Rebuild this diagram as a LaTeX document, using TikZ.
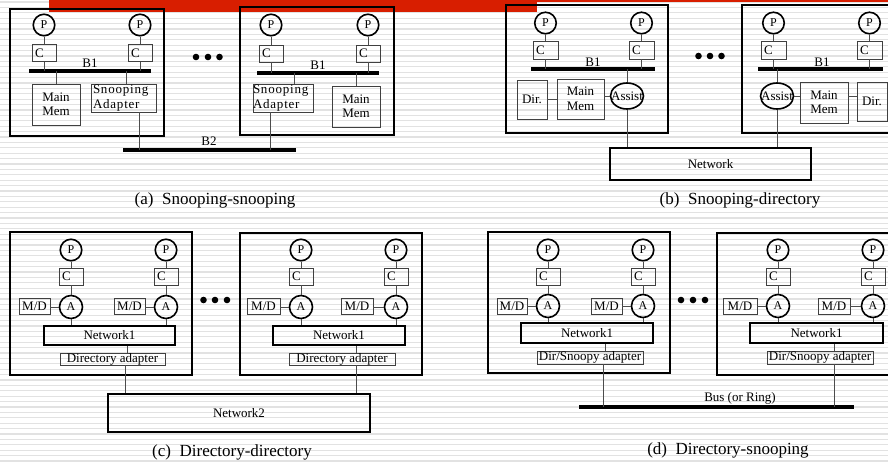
\documentclass[tikz,border=0pt]{standalone}
\usepackage{fontspec}
\setmainfont{Liberation Serif}
\newfontfamily\spacedfont[LetterSpace=6]{Liberation Serif}
\usetikzlibrary{shapes.geometric}
\newcommand\myfs{\fontsize{13}{14.5}\selectfont}
\newcommand\myfsp{\fontsize{12}{13}\selectfont}
\newcommand\myfscap{\fontsize{17}{20}\selectfont}
\definecolor{slidered}{HTML}{D81E00}
\definecolor{stripe}{HTML}{E2E2E2}
\begin{document}
\begin{tikzpicture}[x=1pt,y=-1pt,
 obox/.style={draw=black, line width=1.8pt, inner sep=0pt},
 ibox/.style={draw=black!75, line width=0.9pt, inner sep=0pt, font=\myfs, align=center},
 nbox/.style={draw=black, line width=1.4pt, inner sep=0pt, font=\myfs},
 cbox/.style={draw=black!75, line width=0.9pt, inner xsep=3pt, inner ysep=0pt, text width=18pt, minimum height=17pt, align=left, font=\myfs},
 sabox/.style={draw=black!75, line width=0.9pt, inner xsep=2pt, inner ysep=0pt, align=left, font=\spacedfont\myfs},
 pnode/.style={circle, draw=black, line width=1.6pt, minimum size=21.5pt, inner sep=0pt, font=\myfsp},
 anode/.style={circle, draw=black, line width=1.6pt, minimum size=23pt, inner sep=0pt, font=\myfsp},
 asnode/.style={ellipse, draw=black, line width=1.6pt, minimum width=33pt, minimum height=26pt, inner sep=0pt},
 wire/.style={draw=black!70, line width=0.9pt},
 busline/.style={draw=black, line width=4pt},
 lbl/.style={font=\myfs, inner sep=0pt},
 captxt/.style={font=\myfscap, inner sep=0pt},
]
\useasboundingbox (0,0) rectangle (888,461);
\clip (0,0) rectangle (888,461);
\fill[white] (0,0) rectangle (888,461);
\foreach \k in {0,...,85} \draw[stripe, line width=1.2pt] (0,2+5.4*\k) -- (888,2+5.4*\k);
\fill[slidered] (49,0) rectangle (537,11.5);
\fill[slidered] (537,0) rectangle (888,1.5);

%================ (a) =================
\node[obox, minimum width=154pt, minimum height=127pt] (A1box) at (87,72.5) {};
\node[pnode] (A1p1) at (44,25) {P};
\node[pnode] (A1p2) at (140,25) {P};
\node[cbox] (A1c1) at (44,53) {C};
\node[cbox] (A1c2) at (140,53) {C};
\coordinate (A1bL) at (29,71); \coordinate (A1bR) at (151,71);
\node[lbl] (A1bl) at (90,63) {B1};
\draw[busline] (A1bL) -- (A1bR);
\node[ibox, minimum width=48pt, minimum height=41pt] (A1mm) at (56,104.5) {Main\\Mem};
\node[sabox, text width=61pt, minimum height=28pt] (A1sa) at (123.5,98) {Snooping\\Adapter};
\draw[wire] (A1p1) -- (A1c1);
\draw[wire] (A1p2) -- (A1c2);
\draw[wire] (A1c1) -- (A1c1 |- A1bL);
\draw[wire] (A1c2) -- (A1c2 |- A1bL);
\draw[wire] (A1mm) -- (A1mm |- A1bL);
\draw[wire] ([xshift=2.5pt]A1sa.north) -- ([xshift=2.5pt]A1sa.north |- A1bL);

\node[obox, minimum width=154pt, minimum height=128pt] (A2box) at (317,71) {};
\node[pnode] (A2p1) at (271,25) {P};
\node[pnode] (A2p2) at (368,25) {P};
\node[cbox] (A2c1) at (271,53.5) {C};
\node[cbox] (A2c2) at (368,53.5) {C};
\coordinate (A2bL) at (257,73); \coordinate (A2bR) at (379,73);
\node[lbl] (A2bl) at (318,65) {B1};
\draw[busline] (A2bL) -- (A2bR);
\node[sabox, inner xsep=0pt, text width=60pt, minimum height=28pt] (A2sa) at (283,98) {Snooping\\Adapter};
\node[ibox, minimum width=48pt, minimum height=41pt] (A2mm) at (356,106.5) {Main\\Mem};
\draw[wire] (A2p1) -- (A2c1);
\draw[wire] (A2p2) -- (A2c2);
\draw[wire] (A2c1) -- (A2c1 |- A2bL);
\draw[wire] (A2c2) -- (A2c2 |- A2bL);
\draw[wire] ([xshift=11pt]A2sa.north) -- ([xshift=11pt]A2sa.north |- A2bL);
\draw[wire] (A2mm) -- (A2mm |- A2bL);

\coordinate (B2L) at (123,150); \coordinate (B2R) at (296,150);
\node[lbl] (B2lbl) at (209,141) {B2};
\draw[busline] (B2L) -- (B2R);
\draw[wire] ([xshift=15.5pt]A1sa.south) -- ([xshift=15.5pt]A1sa.south |- B2L);
\draw[wire] ([xshift=-13pt]A2sa.south) -- ([xshift=-13pt]A2sa.south |- B2L);

\fill (196,57) circle (3.3); \fill (208,57) circle (3.3); \fill (219.5,57) circle (3.3);
\node[captxt] (capa) at (215,200) {(a)~~Snooping-snooping};

%================ (b) =================
\node[obox, minimum width=162pt, minimum height=128pt] (B1box) at (587,69) {};
\node[pnode] (B1p1) at (545.5,23) {P};
\node[pnode] (B1p2) at (641.5,23) {P};
\node[cbox, text width=19pt, minimum height=18pt] (B1c1) at (545.5,50) {C};
\node[cbox, text width=19pt, minimum height=18pt] (B1c2) at (641.5,50) {C};
\coordinate (B1bL) at (531,69); \coordinate (B1bR) at (655,69);
\node[lbl] (B1bl) at (593,62) {B1};
\draw[busline] (B1bL) -- (B1bR);
\node[ibox, minimum width=30pt, minimum height=39pt] (B1dir) at (532,99.5) {Dir.};
\node[ibox, minimum width=47pt, minimum height=40pt] (B1mm) at (580.5,99) {Main\\Mem};
\node[asnode, label={[font=\myfs, inner sep=0pt]center:Assist}] (B1as) at (627,96) {};
\draw[wire] (B1p1) -- (B1c1);
\draw[wire] (B1p2) -- (B1c2);
\draw[wire] (B1c1) -- (B1c1 |- B1bL);
\draw[wire] (B1c2) -- (B1c2 |- B1bL);
\draw[wire] (B1as) -- (B1as |- B1bL);
\draw[wire] (B1dir.east |- B1mm) -- (B1mm.west);
\draw[wire] (B1mm.east |- B1as) -- (B1as.west);

\node[obox, minimum width=162pt, minimum height=128pt] (B2box) at (823,69) {};
\node[pnode] (B2p1) at (773.5,23) {P};
\node[pnode] (B2p2) at (869.5,23) {P};
\node[cbox, text width=19pt, minimum height=18pt] (B2c1) at (773.5,50) {C};
\node[cbox, text width=19pt, minimum height=18pt] (B2c2) at (869.5,50) {C};
\coordinate (B2bL) at (758,69); \coordinate (B2bR) at (883,69);
\node[lbl] (B2bl) at (822,62) {B1};
\draw[busline] (B2bL) -- (B2bR);
\node[asnode, label={[font=\myfs, inner sep=0pt]center:Assist}] (B2as) at (777,96) {};
\node[ibox, minimum width=48pt, minimum height=41pt] (B2mm) at (824,102.5) {Main\\Mem};
\node[ibox, minimum width=30pt, minimum height=39pt] (B2dir) at (872,101.5) {Dir.};
\draw[wire] (B2p1) -- (B2c1);
\draw[wire] (B2p2) -- (B2c2);
\draw[wire] (B2c1) -- (B2c1 |- B2bL);
\draw[wire] (B2c2) -- (B2c2 |- B2bL);
\draw[wire] (B2as) -- (B2as |- B2bL);
\draw[wire] (B2as.east) -- (B2as.east -| B2mm.west);
\draw[wire] (B2mm.east |- B2as) -- (B2dir.west |- B2as);

\node[nbox, minimum width=201pt, minimum height=32pt] (Net) at (710.5,164) {Network};
\draw[wire] (B1as) -- (B1as |- Net.north);
\draw[wire] (B2as) -- (B2as |- Net.north);

\fill (698.5,56) circle (3.3); \fill (710,56) circle (3.3); \fill (721.5,56) circle (3.3);
\node[captxt] (capb) at (740,200) {(b)~~Snooping-directory};

%================ (c) =================
\node[obox, minimum width=182pt, minimum height=143pt] (C1box) at (101,303.5) {};
\node[pnode] (C1p1) at (71,250) {P};
\node[pnode] (C1p2) at (166,250) {P};
\node[cbox] (C1c1) at (71,276.5) {C};
\node[cbox] (C1c2) at (166,276.5) {C};
\node[anode] (C1a1) at (71,307) {A};
\node[anode] (C1a2) at (166,307) {A};
\node[ibox, minimum width=31pt, minimum height=16pt] (C1m1) at (34.5,306) {M/D};
\node[ibox, minimum width=31pt, minimum height=16pt] (C1m2) at (129.5,306) {M/D};
\node[nbox, minimum width=131pt, minimum height=19pt] (C1n1) at (109.5,335.5) {Network1};
\node[ibox, minimum width=105pt, minimum height=12pt] (C1ad) at (112.5,359) {Directory adapter};
\draw[wire] (C1p1) -- (C1c1); \draw[wire] (C1c1) -- (C1a1);
\draw[wire] (C1p2) -- (C1c2); \draw[wire] (C1c2) -- (C1a2);
\draw[wire] (C1a1.west) -- (C1a1.west -| C1m1.east);
\draw[wire] (C1a2.west) -- (C1a2.west -| C1m2.east);
\draw[wire] (C1a1) -- (C1a1 |- C1n1.north);
\draw[wire] (C1a2) -- (C1a2 |- C1n1.north);
\draw[wire] ([xshift=14.5pt]C1ad.north) -- ([xshift=14.5pt]C1ad.north |- C1n1.south);

\node[obox, minimum width=182pt, minimum height=142pt] (C2box) at (331,304) {};
\node[pnode] (C2p1) at (301,250) {P};
\node[pnode] (C2p2) at (396,250) {P};
\node[cbox] (C2c1) at (301,276.5) {C};
\node[cbox] (C2c2) at (396,276.5) {C};
\node[anode] (C2a1) at (301,307) {A};
\node[anode] (C2a2) at (396,307) {A};
\node[ibox, minimum width=33pt, minimum height=16pt] (C2m1) at (263.5,306) {M/D};
\node[ibox, minimum width=32pt, minimum height=16pt] (C2m2) at (357,306) {M/D};
\node[nbox, minimum width=132pt, minimum height=19pt] (C2n1) at (339,335.5) {Network1};
\node[ibox, minimum width=106pt, minimum height=12pt] (C2ad) at (342,359) {Directory adapter};
\draw[wire] (C2p1) -- (C2c1); \draw[wire] (C2c1) -- (C2a1);
\draw[wire] (C2p2) -- (C2c2); \draw[wire] (C2c2) -- (C2a2);
\draw[wire] (C2a1.west) -- (C2a1.west -| C2m1.east);
\draw[wire] (C2a2.west) -- (C2a2.west -| C2m2.east);
\draw[wire] (C2a1) -- (C2a1 |- C2n1.north);
\draw[wire] (C2a2) -- (C2a2 |- C2n1.north);
\draw[wire] ([xshift=14pt]C2ad.north) -- ([xshift=14pt]C2ad.north |- C2n1.south);

\node[nbox, minimum width=262pt, minimum height=38pt] (N2) at (239,413) {Network2};
\draw[wire] ([xshift=12.5pt]C1ad.south) -- ([xshift=12.5pt]C1ad.south |- N2.north);
\draw[wire] ([xshift=14pt]C2ad.south) -- ([xshift=14pt]C2ad.south |- N2.north);

\fill (203.5,300) circle (3.3); \fill (215,300) circle (3.3); \fill (227,300) circle (3.3);
\node[captxt] (capc) at (232,452) {(c)~~Directory-directory};

%================ (d) =================
\node[obox, minimum width=182pt, minimum height=141pt] (D1box) at (579,302.5) {};
\node[pnode] (D1p1) at (548,250) {P};
\node[pnode] (D1p2) at (643,250) {P};
\node[cbox] (D1c1) at (548,276.5) {C};
\node[cbox] (D1c2) at (643,276.5) {C};
\node[anode] (D1a1) at (548,306) {A};
\node[anode] (D1a2) at (643,306) {A};
\node[ibox, minimum width=30pt, minimum height=16pt] (D1m1) at (512,306) {M/D};
\node[ibox, minimum width=31pt, minimum height=16pt] (D1m2) at (606.5,306) {M/D};
\node[nbox, minimum width=132pt, minimum height=20pt] (D1n1) at (587,333) {Network1};
\node[ibox, minimum width=106pt, minimum height=13pt] (D1ad) at (590,357.5) {Dir/Snoopy adapter};
\draw[wire] (D1p1) -- (D1c1); \draw[wire] (D1c1) -- (D1a1);
\draw[wire] (D1p2) -- (D1c2); \draw[wire] (D1c2) -- (D1a2);
\draw[wire] (D1a1.west) -- (D1a1.west -| D1m1.east);
\draw[wire] (D1a2.west) -- (D1a2.west -| D1m2.east);
\draw[wire] (D1a1) -- (D1a1 |- D1n1.north);
\draw[wire] (D1a2) -- (D1a2 |- D1n1.north);
\draw[wire] ([xshift=15pt]D1ad.north) -- ([xshift=15pt]D1ad.north |- D1n1.south);

\node[obox, minimum width=182pt, minimum height=142pt] (D2box) at (808,304) {};
\node[pnode] (D2p1) at (778,250) {P};
\node[pnode] (D2p2) at (873,250) {P};
\node[cbox] (D2c1) at (778,276.5) {C};
\node[cbox] (D2c2) at (873,276.5) {C};
\node[anode] (D2a1) at (778,306) {A};
\node[anode] (D2a2) at (873,306) {A};
\node[ibox, minimum width=34pt, minimum height=16pt] (D2m1) at (740,306) {M/D};
\node[ibox, minimum width=32pt, minimum height=16pt] (D2m2) at (834,306) {M/D};
\node[nbox, minimum width=133pt, minimum height=20pt] (D2n1) at (816.5,333) {Network1};
\node[ibox, minimum width=106pt, minimum height=13pt] (D2ad) at (820,357.5) {Dir/Snoopy adapter};
\draw[wire] (D2p1) -- (D2c1); \draw[wire] (D2c1) -- (D2a1);
\draw[wire] (D2p2) -- (D2c2); \draw[wire] (D2c2) -- (D2a2);
\draw[wire] (D2a1.west) -- (D2a1.west -| D2m1.east);
\draw[wire] (D2a2.west) -- (D2a2.west -| D2m2.east);
\draw[wire] (D2a1) -- (D2a1 |- D2n1.north);
\draw[wire] (D2a2) -- (D2a2 |- D2n1.north);
\draw[wire] ([xshift=14pt]D2ad.north) -- ([xshift=14pt]D2ad.north |- D2n1.south);

\coordinate (DbL) at (579,407); \coordinate (DbR) at (854,407);
\node[lbl] (Dblbl) at (740,398) {Bus (or Ring)};
\draw[busline] (DbL) -- (DbR);
\draw[wire] ([xshift=13pt]D1ad.south) -- ([xshift=13pt]D1ad.south |- DbL);
\draw[wire] ([xshift=14pt]D2ad.south) -- ([xshift=14pt]D2ad.south |- DbL);

\fill (681,300) circle (3.3); \fill (693,300) circle (3.3); \fill (705,300) circle (3.3);
\node[captxt] (capd) at (728,450) {(d)~~Directory-snooping};
\end{tikzpicture}
\end{document}
